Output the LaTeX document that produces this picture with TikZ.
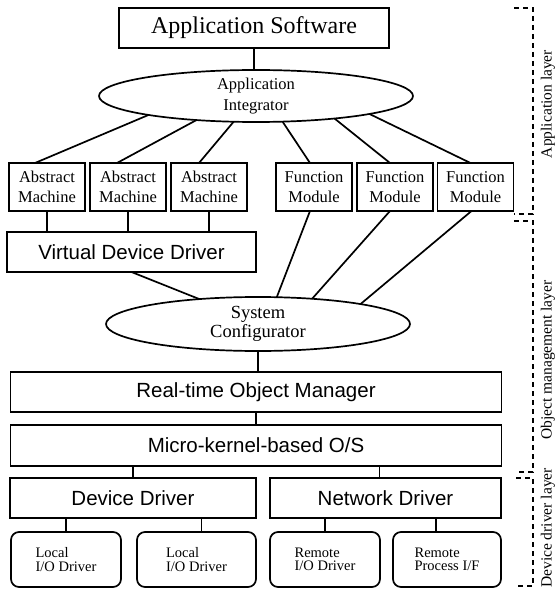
\documentclass[tikz,border=0pt]{standalone}
\usepackage{fontspec}
\setmainfont{Liberation Serif}
\setsansfont{Liberation Sans}
\usetikzlibrary{shapes.geometric}

\tikzset{
  blk/.style={draw, line width=1.7pt, inner sep=0pt, outer sep=0pt},
  modbox/.style={blk, minimum width=76pt, minimum height=48pt, align=center,
    font=\fontsize{16.5}{19.5}\selectfont},
  sansbox/.style={blk, minimum height=40pt, font=\sffamily\fontsize{20.5}{24}\selectfont},
  oval/.style={draw, ellipse, line width=1.7pt, inner sep=0pt, outer sep=0pt, align=center},
  drvbox/.style={blk, rounded corners=8pt, minimum height=55pt, align=left,
    font=\fontsize{14.5}{13.5}\selectfont},
  wire/.style={line width=1.7pt},
  layerline/.style={line width=1.3pt, dash pattern=on 5pt off 4pt},
  layername/.style={rotate=90, font=\fontsize{15.5}{18}\selectfont}
}

\begin{document}
\begin{tikzpicture}[x=1pt,y=-1pt]
  \fill[white] (0,0) rectangle (556,593);
  \useasboundingbox (0,0) rectangle (556,593);

  % application part
  \node[blk, minimum width=270pt, minimum height=40pt, font=\fontsize{24}{28}\selectfont]
    (AS) at (254,28) {Application Software};
  \node[oval, minimum width=314pt, minimum height=52pt, font=\fontsize{16.5}{21}\selectfont]
    (AI) at (256,96) {Application\\Integrator};

  \node[modbox] (am1) at (47,187) {Abstract\\Machine};
  \node[modbox] (am2) at (128,187) {Abstract\\Machine};
  \node[modbox] (am3) at (209,187) {Abstract\\Machine};
  \node[modbox] (fm1) at (314,187) {Function\\Module};
  \node[modbox] (fm2) at (395,187) {Function\\Module};
  \node[modbox] (fm3) at (475.5,187) {Function\\Module};

  % object management part
  \node[sansbox, minimum width=249pt] (VDD) at (131.5,252) {Virtual Device Driver};
  \node[oval, minimum width=304pt, minimum height=54pt, font=\fontsize{18.5}{19}\selectfont]
    (SC) at (258,324) {System\\Configurator};
  \node[sansbox, minimum width=491pt] (RTOM) at (256,392) {Real-time Object Manager};
  \node[sansbox, minimum width=491pt, minimum height=41pt] (OS) at (256,445.5) {Micro-kernel-based O/S};

  % device driver part
  \node[sansbox, minimum width=246pt] (DD) at (133,498) {Device Driver};
  \node[sansbox, minimum width=231pt] (ND) at (385.5,498) {Network Driver};
  \node[drvbox, minimum width=110pt] (L1) at (66,559.5) {Local\\I/O Driver};
  \node[drvbox, minimum width=119pt] (L2) at (196.5,559.5) {Local\\I/O Driver};
  \node[drvbox, minimum width=110pt] (R1) at (325,559.5) {Remote\\I/O Driver};
  \node[drvbox, minimum width=108pt] (R2) at (447,559.5) {Remote\\Process I/F};

  % connections
  \draw[wire] (AS) -- (AS |- AI.north);
  \draw[wire] (AI.190) -- ([xshift=-12pt]am1.north);
  \draw[wire] (AI.202) -- ([xshift=-11pt]am2.north);
  \draw[wire] (AI.229) -- ([xshift=-10pt]am3.north);
  \draw[wire] (AI.316) -- ([xshift=-4pt]fm1.north);
  \draw[wire] (AI.344) -- ([xshift=-5pt]fm2.north);
  \draw[wire] (AI.351) -- ([xshift=-5pt]fm3.north);

  \draw[wire] (am1.south) -- (am1.south |- VDD.north);
  \draw[wire] (am2.south) -- (am2.south |- VDD.north);
  \draw[wire] (am3.south) -- (am3.south |- VDD.north);
  \draw[wire] (VDD.south) -- (SC.157);
  \draw[wire] ([xshift=-4pt]fm1.south) -- (SC.55);
  \draw[wire] ([xshift=-5pt]fm2.south) -- (SC.25);
  \draw[wire] ([xshift=-4pt]fm3.south) -- (SC.11);

  \draw[wire] (SC.south) -- (SC.south |- RTOM.north);
  \draw[wire] (RTOM.south) -- (OS.north);
  \draw[wire] (DD.north |- OS.south) -- (DD.north);
  \draw[wire] ([xshift=-6pt]ND.north |- OS.south) -- ([xshift=-6pt]ND.north);
  \draw[wire] (L1.north |- DD.south) -- (L1.north);
  \draw[wire] ([xshift=5pt]L2.north |- DD.south) -- ([xshift=5pt]L2.north);
  \draw[wire] (R1.north |- ND.south) -- (R1.north);
  \draw[wire] ([xshift=-11pt]R2.north |- ND.south) -- ([xshift=-11pt]R2.north);

  % layer brackets
  \draw[layerline] (514,8) -- (533,8) -- (533,214) -- (514,214);
  \draw[layerline] (514,221) -- (533,221) -- (533,472) -- (516,472);
  \draw[layerline] (516,478) -- (533,478) -- (533,586) -- (516,586);
  \node[layername] (appl) at (548,104) {Application layer};
  \node[layername] (objl) at (548,360) {Object management layer};
  \node[layername] (devl) at (548,528) {Device driver layer};
\end{tikzpicture}
\end{document}
